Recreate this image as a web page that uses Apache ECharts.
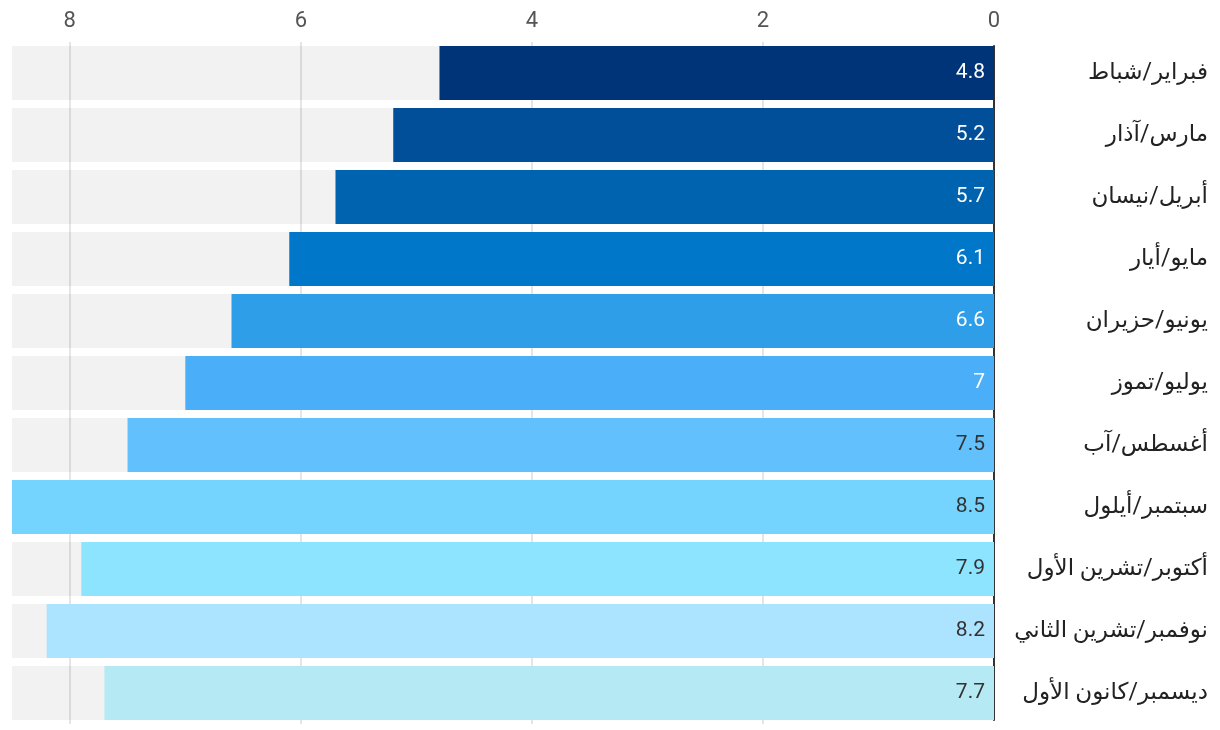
<!DOCTYPE html>
<html>
<head>
<meta charset="utf-8">
<script src="https://cdn.jsdelivr.net/npm/echarts@6/dist/echarts.min.js"></script>
<style>
html,body{margin:0;padding:0;background:#fff;}
#chart{width:1220px;height:730px;}
</style>
</head>
<body>
<div id="chart"></div>
<script>
const categories = ['فبراير/شباط','مارس/آذار','أبريل/نيسان','مايو/أيار','يونيو/حزيران','يوليو/تموز','أغسطس/آب','سبتمبر/أيلول','أكتوبر/تشرين الأول','نوفمبر/تشرين الثاني','ديسمبر/كانون الأول'];
const values = [4.8, 5.2, 5.7, 6.1, 6.6, 7, 7.5, 8.5, 7.9, 8.2, 7.7];
const barColors = ['#003478','#004f98','#0063b0','#0077c8','#2f9ee8','#4aaef8','#62c0fd','#75d4fe','#8ce4fe','#ace3fe','#b5e9f3'];
const labelColors = ['#fff','#fff','#fff','#fff','#fff','#fff','#333','#333','#333','#333','#333'];

const chart = echarts.init(document.getElementById('chart'));
chart.setOption({
  animation: false,
  textStyle: { fontFamily: 'Roboto, "Noto Sans", "DejaVu Sans", sans-serif' },
  grid: [
    { left: 12, right: 226, top: 42, bottom: 6, containLabel: false },
    { left: 12, right: 226, top: 46, bottom: 10, containLabel: false }
  ],
  xAxis: [{
    type: 'value', position: 'top', inverse: true, gridIndex: 0,
    min: 0, max: 8.5, interval: 2,
    axisLine: { show: false }, axisTick: { show: false },
    axisLabel: { color: '#555', fontSize: 22, margin: 10, showMaxLabel: false },
    splitLine: { show: true, showMaxLine: false, showMinLine: false, lineStyle: { color: '#dcdcdc', width: 1.5 } }
  }, {
    type: 'value', gridIndex: 1, inverse: true, min: 0, max: 8.5, show: false
  }],
  yAxis: [{
    type: 'category', position: 'right', inverse: true, gridIndex: 0,
    data: categories,
    axisLine: { show: false },
    axisTick: { show: false },
    axisLabel: { color: '#222', fontSize: 23, align: 'right', margin: 214 }
  }, {
    type: 'category', position: 'right', gridIndex: 1, data: categories,
    axisLine: { show: true, lineStyle: { color: '#333', width: 2 } },
    axisTick: { show: false }, axisLabel: { show: false }, splitLine: { show: false }
  }],
  series: [{
    type: 'bar',
    xAxisIndex: 0, yAxisIndex: 0,
    data: values.map((v, i) => ({
      value: v,
      itemStyle: { color: barColors[i] },
      label: { color: labelColors[i] }
    })),
    barCategoryGap: '12.9%',
    showBackground: true,
    backgroundStyle: { color: 'rgba(0,0,0,0.05)' },
    label: { show: true, position: 'insideRight', distance: 9, fontSize: 21 }
  }]
});
</script>
</body>
</html>
